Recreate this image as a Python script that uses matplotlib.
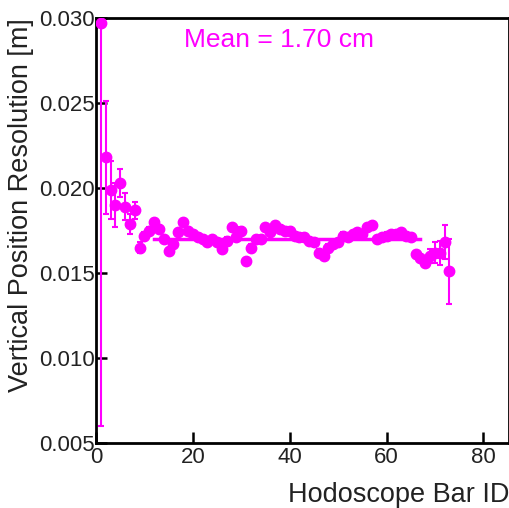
import numpy as np
import matplotlib
matplotlib.use('Agg')
import matplotlib.pyplot as plt

plt.rcParams['font.family'] = ['Liberation Sans', 'DejaVu Sans']

# bar id and fitted vertical resolution [m]
bar_id = list(range(1, 74))
resolution = [
    0.0297, 0.0218, 0.0199, 0.0190, 0.0203, 0.0189, 0.0179, 0.0187, 0.0165, 0.0172,
    0.0175, 0.0180, 0.0176, 0.0170, 0.0163, 0.0167, 0.0174, 0.0180, 0.0175, 0.0173,
    0.0171, 0.0170, 0.0168, 0.0170, 0.0168, 0.0164, 0.0169, 0.0177, 0.0171, 0.0175,
    0.0157, 0.0165, 0.0170, 0.0170, 0.0177, 0.0174, 0.0178, 0.0176, 0.0175, 0.0175,
    0.0172, 0.0171, 0.0171, 0.0169, 0.0168, 0.0162, 0.0160, 0.0165, 0.0167, 0.0168,
    0.0172, 0.0171, 0.0173, 0.0174, 0.0173, 0.0177, 0.0178, 0.0170, 0.0171, 0.0172,
    0.0173, 0.0173, 0.0174, 0.0172, 0.0171, 0.0161, 0.0159, 0.0156, 0.0160, 0.0162,
    0.0162, 0.0168, 0.0151,
]
errors = [0.0237, 0.0033, 0.0017, 0.0013, 0.0008, 0.0008, 0.0006, 0.0005, 0.0003] \
    + [0.0002] * 59 + [0.0004, 0.0006, 0.0007, 0.0010, 0.0019]
fit_range = [12, 67]
mean_res = 0.0170

fig = plt.figure(figsize=(5.10, 5.08), dpi=100)
ax = fig.add_axes([96 / 510, 65 / 508, 413.5 / 510, 425 / 508])

col = '#ff00ff'
ax.errorbar(bar_id, resolution, yerr=errors, fmt='o', color=col, ms=7.5,
            elinewidth=1.5, capsize=2.5, capthick=1.5, zorder=3)
ax.plot(fit_range, [mean_res, mean_res], color=col, lw=2.5, zorder=2)

ax.set_xlim(0, 85.4)
ax.set_ylim(0.005, 0.030)
ax.set_xticks([0, 20, 40, 60, 80])
ax.set_yticks([0.005, 0.010, 0.015, 0.020, 0.025, 0.030])
ax.set_yticklabels(['0.005', '0.010', '0.015', '0.020', '0.025', '0.030'])
ax.tick_params(direction='in', length=8, width=1.8, labelsize=16, pad=1,
               labelcolor='#222222')
ax.tick_params(axis='x', pad=3)
for s in ax.spines.values():
    s.set_linewidth(2)

ax.set_xlabel('Hodoscope Bar ID', fontsize=19.5, loc='right', labelpad=10,
              color='#222222')
ax.set_ylabel('Vertical Position Resolution [m]', fontsize=19.5, loc='top',
              color='#222222')
ax.yaxis.set_label_coords(-0.150, 1.0)
ax.text(0.212, 0.948, 'Mean = 1.70 cm', transform=ax.transAxes, color=col,
        fontsize=19, va='center', ha='left')

fig.savefig('out.png', dpi=100)
